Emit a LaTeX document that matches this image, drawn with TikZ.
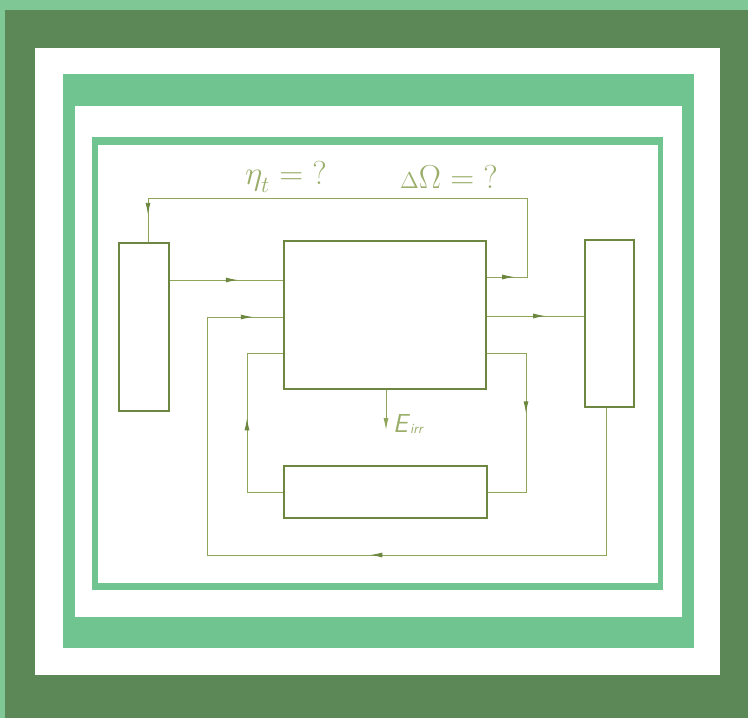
\documentclass[tikz,border=0pt]{standalone}
\usetikzlibrary{arrows.meta,decorations.markings}
\definecolor{bglight}{HTML}{80C796}
\definecolor{darkframe}{HTML}{5B8856}
\definecolor{midband}{HTML}{6FC490}
\definecolor{olive}{HTML}{6D8740}
\definecolor{olivethin}{HTML}{8EA55A}
\definecolor{labelc}{HTML}{9AAE6A}
\begin{document}
\begin{tikzpicture}[x=1pt,y=-1pt,
  blk/.style={draw=olive,line width=2.2pt,inner sep=0pt,fill=white},
  conn/.style={draw=olivethin,line width=0.9pt},
  marrow/.style={postaction={decorate,decoration={markings,mark=at position #1 with {\arrow[olive]{Latex[length=12pt,width=5pt]}}}}},
  lbl/.style={text=labelc,inner sep=0pt}]
% frames
\fill[bglight] (0,0) rectangle (748,718);
\fill[darkframe] (5,10) rectangle (748,718);
\fill[white] (35,48) rectangle (720,675);
\fill[midband] (63,74) rectangle (694,648);
\fill[white] (75,106) rectangle (682,617);
\fill[midband] (92,137) rectangle (663,590);
\fill[white] (98,145) rectangle (658,583);
\useasboundingbox (0,0) rectangle (748,718);
% blocks
\node[blk,minimum width=50pt,minimum height=168pt] (L) at (144,327) {};
\node[blk,minimum width=202pt,minimum height=148pt] (M) at (385,315) {};
\node[blk,minimum width=49pt,minimum height=167pt] (R) at (609.5,323.5) {};
\node[blk,minimum width=203pt,minimum height=52pt] (B) at (385.5,492) {};
% corner coordinates
\coordinate (t1) at (527,277);
\coordinate (t2) at (527,198);
\coordinate (t3) at (148,198);
\coordinate (f1) at (606,555);
\coordinate (f2) at (207,555);
\coordinate (f3) at (207,317);
\coordinate (g1) at (526,353);
\coordinate (g2) at (526,492);
\coordinate (h1) at (247,492);
\coordinate (h2) at (247,353);
\coordinate (e1) at (386,430);
% connectors
\draw[conn,marrow=0.6] (L.east |- 0,280) -- (M.west |- 0,280);
\draw[conn,marrow=0.05,marrow=0.95] (M.east |- t1) -- (t1) -- (t2) -- (t3) -- (L.north -| t3);
\draw[conn,marrow=0.445,marrow=0.965] (R.south -| f1) -- (f1) -- (f2) -- (f3) -- (M.west |- f3);
\draw[conn,marrow=0.6] (M.east |- 0,316) -- (R.west |- 0,316);
\draw[conn,marrow=0.46] (M.east |- g1) -- (g1) -- (g2) -- (B.east);
\draw[conn,marrow=0.52] (B.west) -- (h1) -- (h2) -- (M.west |- h2);
\draw[conn,-{Latex[length=12pt,width=5pt]}] (M.south -| e1) -- (e1);
% labels
\node[lbl,font=\fontsize{20.74}{24}\selectfont,scale=1.6] (eta) at (286,177) {$\eta_{\raisebox{-2pt}{$\scriptstyle t$}} = \mathord{?}$};
\node[lbl,font=\fontsize{20.74}{24}\selectfont,scale=1.6] (dom) at (449,177) {${\scriptstyle\Delta}\Omega = \mathord{?}$};
\node[lbl,anchor=base west,font=\fontsize{26}{30}\selectfont\sffamily\itshape] (eirr) at (393,432) {E\raisebox{-1pt}{\fontsize{14}{16}\selectfont\,irr}};
\end{tikzpicture}
\end{document}
